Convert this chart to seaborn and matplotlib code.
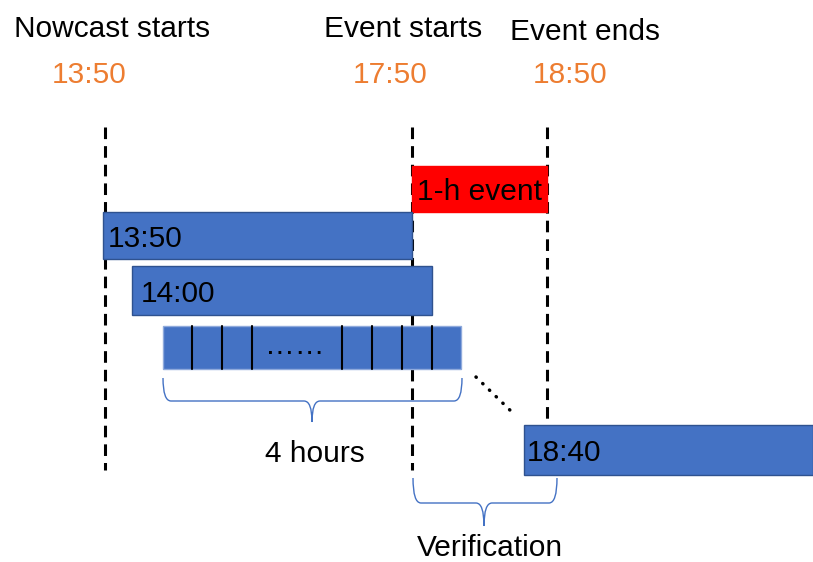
import matplotlib
matplotlib.use("Agg")
import matplotlib.pyplot as plt
import seaborn as sns
from matplotlib.path import Path
from matplotlib.patches import PathPatch

sns.set_theme(style="white")
plt.rcParams['font.family'] = ['Liberation Sans', 'DejaVu Sans']

# ---- diagram data (schematic positions in diagram units) ----
header_labels = ["Nowcast starts", "Event starts", "Event ends"]
header_x = [112, 403, 585]
header_base = [37, 37, 40]
time_labels = ["13:50", "17:50", "18:50"]
time_x = [89, 390, 570]
time_base = [83, 83, 83]

marker_x = [105, 412, 547]
marker_top = [127, 127, 127]
marker_bottom = [470, 470, 421]

bar_labels = ["13:50", "14:00", "\u2026\u2026", "18:40"]
bar_left = [103, 132, 163, 524]
bar_right = [412, 432, 461, 813]
bar_top = [212, 266, 326, 425]
bar_bottom = [259, 315, 369, 475]
label_x = [108, 141, 295, 527]
label_base = [247, 302, 354, 461]

seg_lines = [192, 222, 252, 342, 372, 402, 432]

event_label = "1-h event"
event_left, event_right = 412, 547
event_top, event_bottom = 166, 212

brace_labels = ["4 hours", "Verification"]
brace_left = [163, 413]
brace_right = [462, 557]
brace_tip = [312, 484]
brace_top = [378, 478]
brace_mid = [401, 503]
brace_end = [422, 526]
brace_text_x = [315, 490]
brace_text_base = [462, 556]

dots_x = [476, 516]
dots_y = [377, 416]

FS = 21.5
BLUE = "#4472C4"
EDGE = "#2F528F"
ORANGE = "#ED7D31"

fig = plt.figure(figsize=(8.13, 5.62), dpi=100)
ax = fig.add_axes([0, 0, 1, 1])
ax.set_xlim(0, 813)
ax.set_ylim(562, 0)
ax.axis("off")

# headers
for lab, x, y in zip(header_labels, header_x, header_base):
    ax.text(x, y, lab, fontsize=FS, ha="center", va="baseline", color="black")
for lab, x, y in zip(time_labels, time_x, time_base):
    ax.text(x, y, lab, fontsize=FS, ha="center", va="baseline", color=ORANGE)

# dashed markers
for x, t, b in zip(marker_x, marker_top, marker_bottom):
    ax.plot([x, x], [t, b], color="black", lw=2.2, linestyle=(0, (3.8, 2.3)), zorder=1)

# event box
ax.barh((event_top + event_bottom) / 2, event_right - event_left,
        height=event_bottom - event_top, left=event_left, color="#FF0000",
        edgecolor="#FF0000", zorder=2)
ax.text((event_left + event_right) / 2, 200, event_label, fontsize=FS,
        ha="center", va="baseline", color="black", zorder=5)

# nowcast bars
for i, (lab, l, r, t, b, lx, lb) in enumerate(zip(bar_labels, bar_left, bar_right,
                                                  bar_top, bar_bottom, label_x, label_base)):
    ec = "#8FAADC" if i == 2 else EDGE
    ax.barh((t + b) / 2, r - l, height=b - t, left=l, color=BLUE,
            edgecolor=ec, linewidth=1.0, zorder=3)
    if i == 2:
        ax.text(lx, lb, lab, fontsize=FS, ha="center", va="baseline", color="black", zorder=5)
    else:
        ax.text(lx, lb, lab, fontsize=FS, ha="left", va="baseline", color="black", zorder=5)

# segment separators
for x in seg_lines:
    ax.plot([x, x], [bar_top[2], bar_bottom[2]], color="black", lw=1.5, zorder=4)

# dotted continuation
ax.plot(dots_x, dots_y, color="black", lw=2.5, linestyle=(0, (0.1, 2.6)),
        dash_capstyle="round", solid_capstyle="round", zorder=4)

# braces
def brace(x0, x1, xc, yt, ym, ye, r=8):
    verts = [(x0, yt), (x0, ym), (x0 + r, ym),
             (xc - r, ym), (xc, ym), (xc, ye),
             (xc, ym), (xc + r, ym),
             (x1 - r, ym), (x1, ym), (x1, yt)]
    codes = [Path.MOVETO, Path.CURVE3, Path.CURVE3,
             Path.LINETO, Path.CURVE3, Path.CURVE3,
             Path.CURVE3, Path.CURVE3,
             Path.LINETO, Path.CURVE3, Path.CURVE3]
    ax.add_patch(PathPatch(Path(verts, codes), facecolor="none",
                           edgecolor=BLUE, lw=1.0, zorder=4))

for i in range(2):
    brace(brace_left[i], brace_right[i], brace_tip[i], brace_top[i], brace_mid[i], brace_end[i])
    ax.text(brace_text_x[i], brace_text_base[i], brace_labels[i], fontsize=FS,
            ha="center", va="baseline", color="black", zorder=5)

fig.savefig("out.png", dpi=100, facecolor="white")
